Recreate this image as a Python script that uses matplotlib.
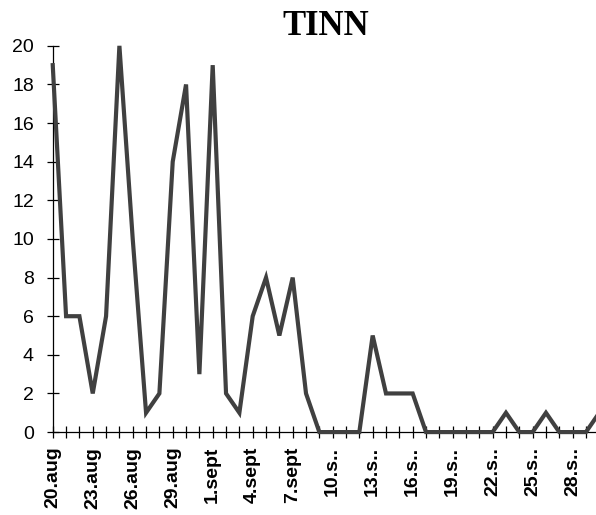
import matplotlib
matplotlib.use("Agg")
import matplotlib.pyplot as plt

# daily counts from 20.aug to 30.sept
days = ["20.aug", "21.aug", "22.aug", "23.aug", "24.aug", "25.aug", "26.aug",
        "27.aug", "28.aug", "29.aug", "30.aug", "31.aug",
        "1.sept", "2.sept", "3.sept", "4.sept", "5.sept", "6.sept", "7.sept",
        "8.s..", "9.s..", "10.s..", "11.s..", "12.s..", "13.s..", "14.s..",
        "15.s..", "16.s..", "17.s..", "18.s..", "19.s..", "20.s..", "21.s..",
        "22.s..", "23.s..", "24.s..", "25.s..", "26.s..", "27.s..", "28.s..",
        "29.s..", "30.s.."]
values = [19, 6, 6, 2, 6, 20, 10, 1, 2, 14, 18, 3,
          19, 2, 1, 6, 8, 5, 8, 2, 0, 0, 0, 0, 5, 2,
          2, 2, 0, 0, 0, 0, 0, 0, 1, 0, 0, 1, 0, 0,
          0, 1]
yticks = [0, 2, 4, 6, 8, 10, 12, 14, 16, 18, 20]

fig = plt.figure(figsize=(5.96, 5.15), dpi=100)
ax = fig.add_axes([0.0885, 0.161, 0.917, 0.750])

x = list(range(len(values)))
ax.plot(x, values, color="#404040", linewidth=3.0,
        solid_joinstyle="miter", clip_on=False, zorder=3)

ax.set_xlim(0, len(values) - 1)
ax.set_ylim(0, 20)

ax.set_xticks(x)
ax.set_xticklabels([d if i % 3 == 0 else "" for i, d in enumerate(days)],
                   rotation=90, fontsize=14, fontweight="bold",
                   family="Liberation Sans")
ax.set_yticks(yticks)
ax.set_yticklabels([str(v) for v in yticks], fontsize=14,
                   family="Liberation Sans")

ax.tick_params(axis="both", direction="inout", length=9, width=0.9,
               color="black")
ax.tick_params(axis="x", pad=6)
ax.tick_params(axis="y", pad=9)

for s in ["top", "right"]:
    ax.spines[s].set_visible(False)
for s in ["left", "bottom"]:
    ax.spines[s].set_linewidth(0.9)

fig.text(0.547, 0.932, "TINN", ha="center", va="baseline",
         fontsize=25, fontweight="bold", family="Liberation Serif")

fig.savefig("out.png", dpi=100)
